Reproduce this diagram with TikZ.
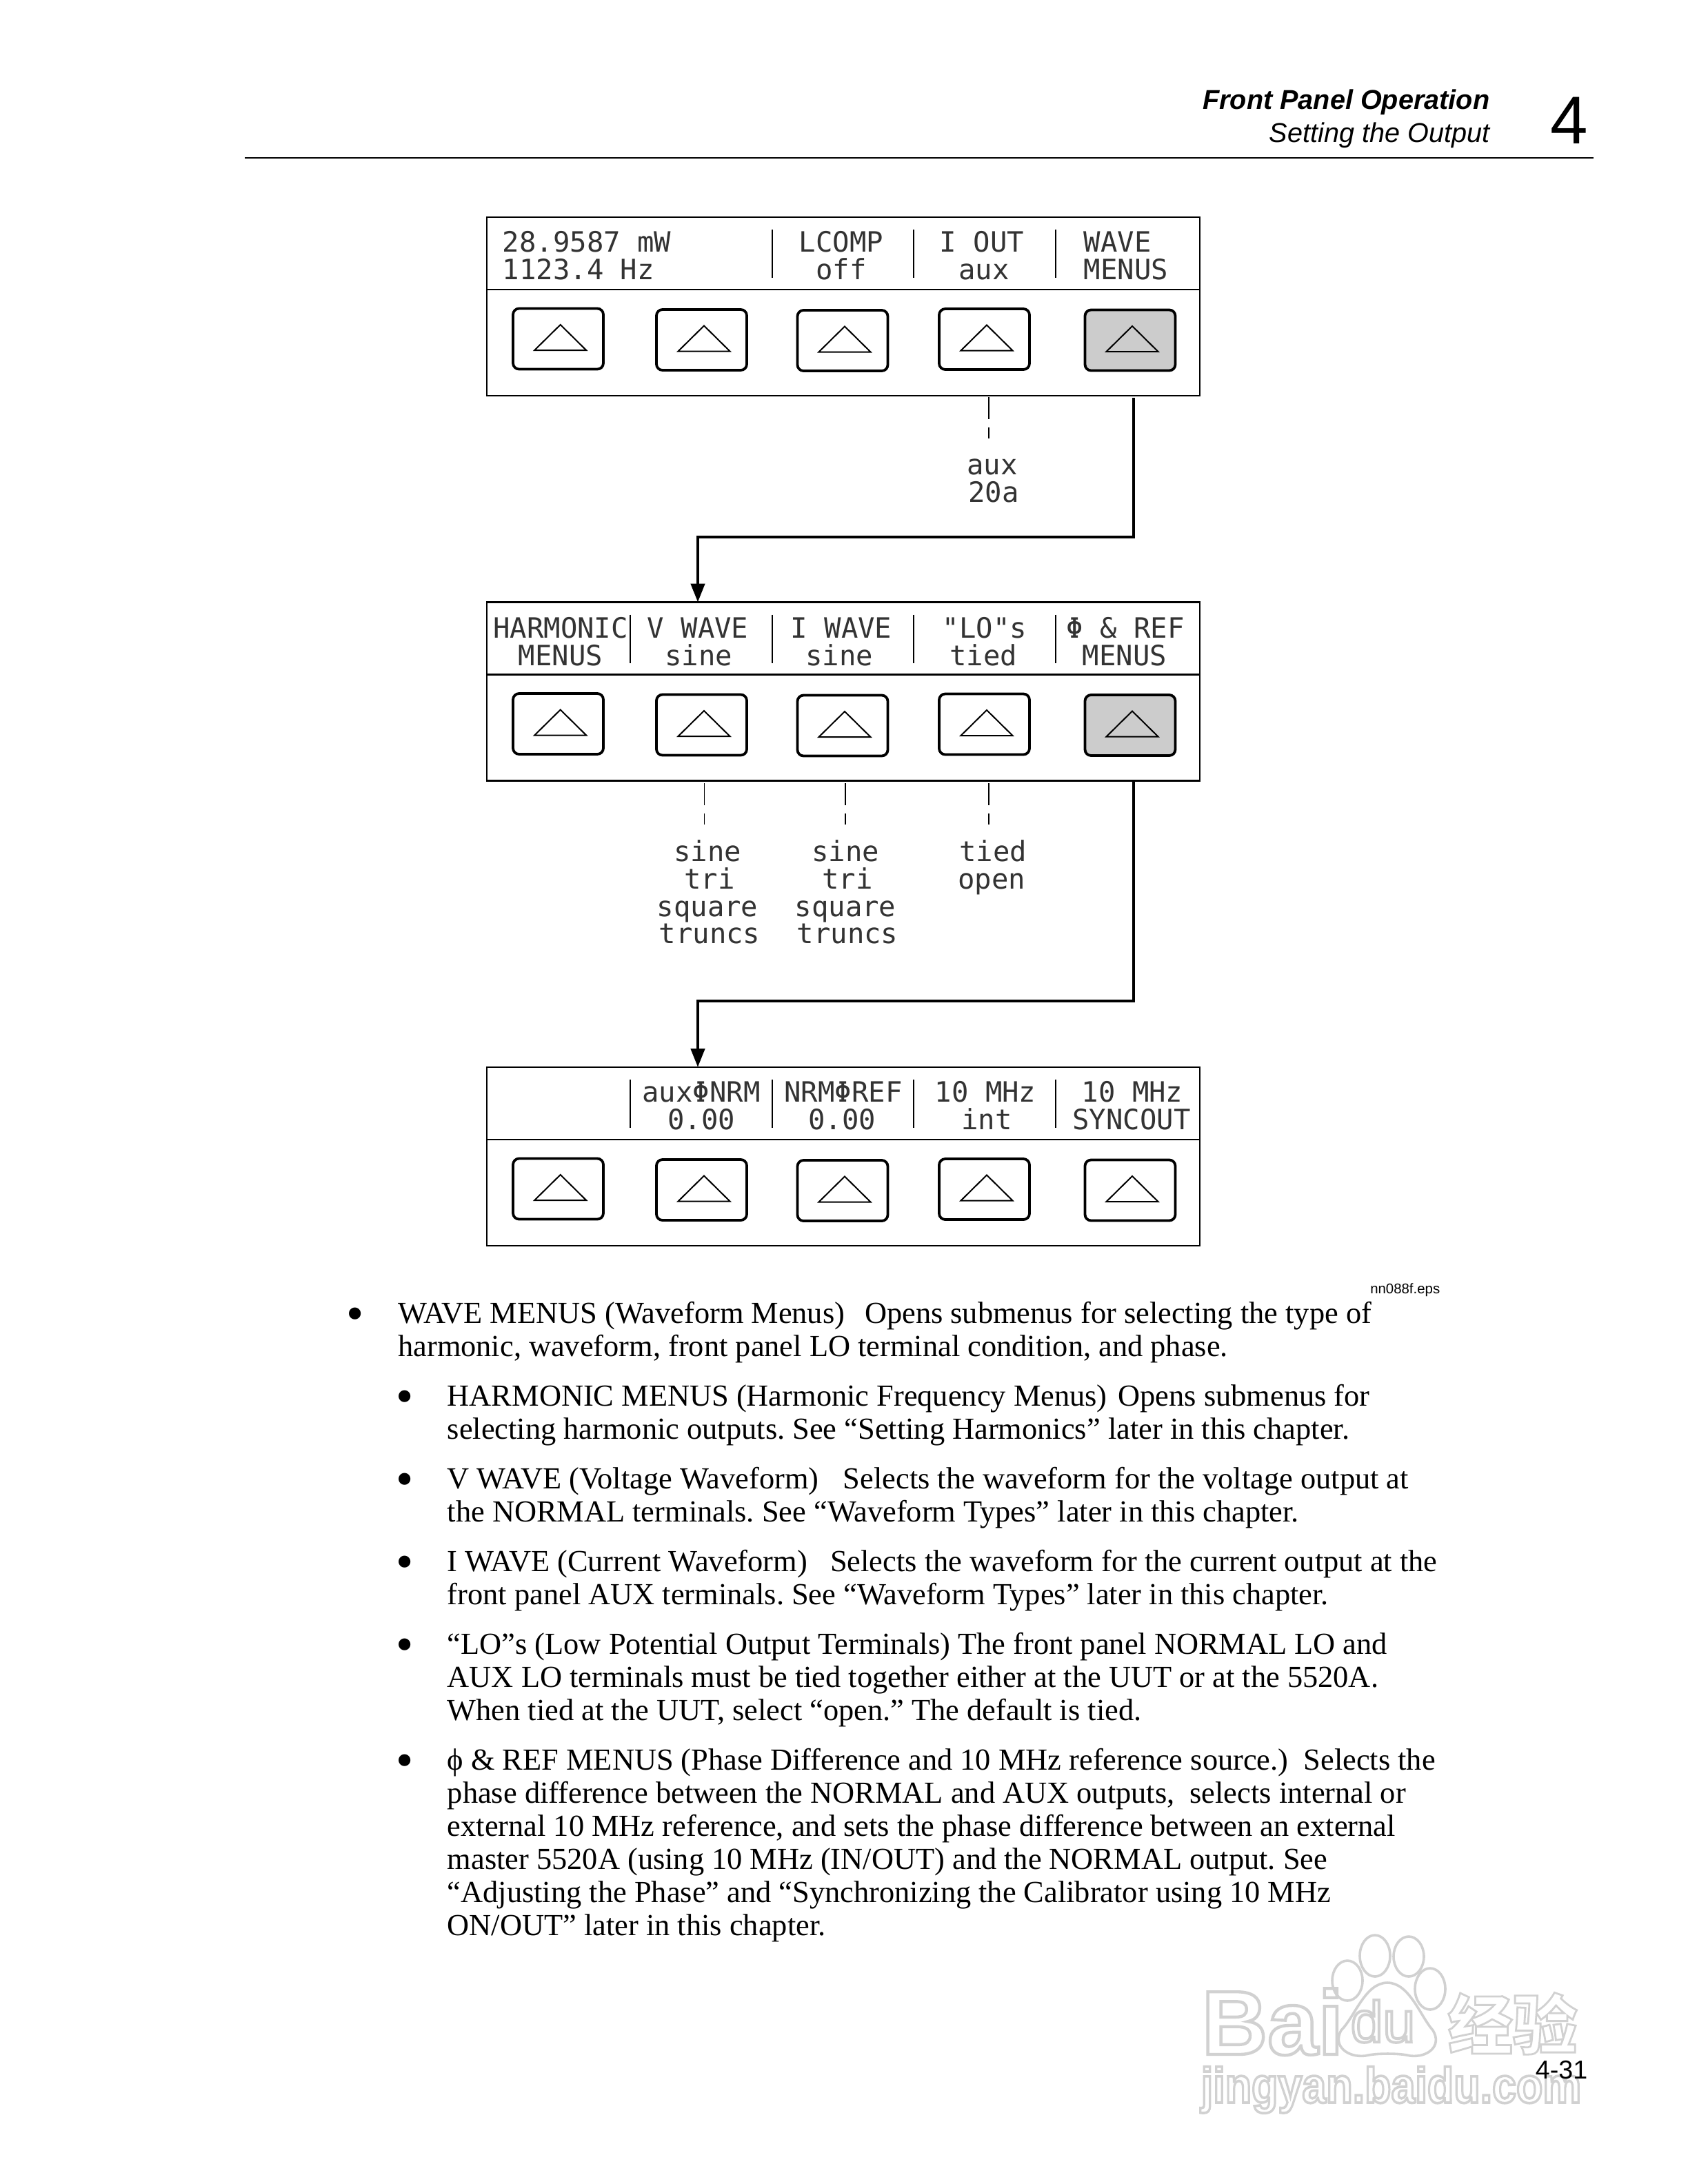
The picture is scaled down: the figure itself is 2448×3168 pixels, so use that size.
\documentclass[tikz,border=0pt]{standalone}
\usepackage{fontspec}
\usetikzlibrary{arrows.meta}
\setmainfont{Liberation Serif}
\newfontfamily\lcdf{DejaVu Sans Mono}
\newfontfamily\hsf{Liberation Sans}
\newfontfamily\cjkf{Noto Sans CJK SC}
\definecolor{wmgray}{gray}{0.82}
\newcommand{\wmout}[2]{\special{pdf:code q 1 Tr #1 w 0.82 G}#2\special{pdf:code Q}}
\frenchspacing
\tikzset{
  panelbox/.style={draw,line width=0.6bp,minimum width=258.5bp,minimum height=64.75bp,inner sep=0pt,outer sep=0pt,anchor=north west},
  btn/.style={draw,line width=0.95bp,rounded corners=2.2bp,minimum width=32.75bp,minimum height=22bp,inner sep=0pt,outer sep=0pt,anchor=north,fill=white},
  btnon/.style={btn,fill=black!20},
  tri/.style={draw,line width=0.5bp,line join=miter},
  sepline/.style={line width=0.7bp},
  flow/.style={line width=1.15bp,-{Triangle[length=6.75bp,width=5bp]}},
  drop/.style={line width=0.45bp,dash pattern=on 7.9bp off 3.1bp on 3.9bp off 100bp},
  lcd/.style={font=\lcdf\fontsize{10.15bp}{12bp}\selectfont,text=black!80,inner sep=0pt,anchor=base},
  lcdl/.style={lcd,anchor=base west},
  bodytext/.style={font=\fontsize{11.1bp}{12bp}\selectfont,inner sep=0pt,anchor=base west},
  bul/.style={font=\fontsize{18bp}{20bp}\selectfont,inner sep=0pt,anchor=base},
  wmline/.style={draw=wmgray,fill=white,line width=0.9bp},
  wmtext/.style={inner sep=0pt,anchor=base west}
}
% name, centre x, top y, apex x, style
\newcommand{\mybtn}[5]{%
  \node[#5] (#1) at (#2,#3) {};
  \draw[tri] (#4,#3+23.5) -- (#4-37.5,#3+60.5) -- (#4+37.5,#3+60.5) -- cycle;
}
\newcommand{\mypanel}[2]{%
  \node[panelbox] (#1) at (705.7,#2) {};
  \draw[line width=0.6bp] (705.7,#2+105) -- (1739.7,#2+105);
  \coordinate (#1s1) at (914,#2+18);
  \coordinate (#1s2) at (1120,#2+18);
  \coordinate (#1s3) at (1325,#2+18);
  \coordinate (#1s4) at (1531,#2+18);
  \draw[sepline] (#1s2) -- ++(0,70);
  \draw[sepline] (#1s3) -- ++(0,70);
  \draw[sepline] (#1s4) -- ++(0,70);
  \mybtn{#1b1}{809.5}{#2+132.5}{812.7}{btn}
  \mybtn{#1b2}{1017.5}{#2+134}{1021}{btn}
  \mybtn{#1b3}{1222}{#2+135}{1225}{btn}
  \mybtn{#1b4}{1427.5}{#2+133}{1431}{btn}
}
\begin{document}
\begin{tikzpicture}[x=0.25bp,y=-0.25bp]
\useasboundingbox[fill=white] (0,0) rectangle (2448,3168);

% ---- watermark
\draw[wmline] (1954,2873) ellipse[x radius=22,y radius=29];
\draw[wmline] (1994,2837) ellipse[x radius=22,y radius=30];
\draw[wmline] (2043,2838) ellipse[x radius=22,y radius=29];
\draw[wmline] (2074,2885) ellipse[x radius=22,y radius=30];
\draw[wmline] (2012,2876) .. controls (2044,2876) and (2060,2925) .. (2078,2945)
   .. controls (2092,2968) and (2070,2985) .. (2045,2982)
   .. controls (2030,2978) and (1995,2978) .. (1980,2982)
   .. controls (1955,2985) and (1932,2968) .. (1945,2945)
   .. controls (1965,2925) and (1980,2876) .. (2012,2876) -- cycle;
\node[wmtext,font=\hsf\bfseries\fontsize{33bp}{36bp}\selectfont] (wmbai) at (1742,2980) {\wmout{1.1}{Bai}};
\node[wmtext,font=\hsf\fontsize{21bp}{24bp}\selectfont] (wmdu) at (1958,2962) {\wmout{1.0}{du}};
\node[wmtext,font=\cjkf\bfseries\fontsize{23.5bp}{26bp}\selectfont] (wmcn) at (2099,2972) {\wmout{0.7}{经验}};
\node[wmtext,font=\hsf\bfseries\fontsize{15.7bp}{22bp}\selectfont] (wmurl) at (1741,3050) {\scalebox{1}[1.15]{\wmout{0.8}{jingyan.baidu.com}}};

% ---- header
\draw[line width=0.5bp] (355,229.3) -- (2311,229.3);
\node[inner sep=0pt,anchor=base east,font=\hsf\bfseries\itshape\fontsize{9.9bp}{12bp}\selectfont] (h1) at (2161,158) {Front Panel Operation};
\node[inner sep=0pt,anchor=base east,font=\hsf\itshape\fontsize{9.9bp}{12bp}\selectfont] (h2) at (2161,206) {Setting the Output};
\node[inner sep=0pt,anchor=base east,font=\hsf\fontsize{24.5bp}{28bp}\selectfont] (h3) at (2304,208) {4};

% ---- panels
\mypanel{pa}{315}
\mybtn{pab5}{1639}{449.5}{1642}{btnon}
\mypanel{pb}{873.5}
\mybtn{pbb5}{1639}{1008}{1642}{btnon}
\draw[sepline] (pbs1) -- ++(0,70);
\mypanel{pc}{1548}
\mybtn{pcb5}{1639}{1682.5}{1642}{btn}
\draw[sepline] (pcs1) -- ++(0,70);

% panel 1 text
\node[lcdl] (a1) at (728,365) {28.9587 mW};
\node[lcdl] (a2) at (728,405.5) {1123.4 Hz};
\node[lcd] (a3) at (1220,365) {LCOMP};
\node[lcd] (a4) at (1220,405.5) {off};
\node[lcd] (a5) at (1424,365) {I OUT};
\node[lcd] (a6) at (1427,405.5) {aux};
\node[lcdl] (a7) at (1571,365) {WAVE};
\node[lcdl] (a8) at (1571,405.5) {MENUS};

% panel 2 text
\node[lcd] (b1) at (813,925) {HARMONIC};
\node[lcd] (b2) at (813,965) {MENUS};
\node[lcd] (b3) at (1012,925) {V WAVE};
\node[lcd] (b4) at (1013,965) {sine};
\node[lcd] (b5) at (1220,925) {I WAVE};
\node[lcd] (b6) at (1217,965) {sine};
\node[lcd] (b7) at (1428,925) {"LO"s};
\node[lcd] (b8) at (1426,965) {tied};
\node[lcd] (b9) at (1632,925) {Φ \& REF};
\node[lcd] (b10) at (1631,965) {MENUS};

% panel 3 text
\node[lcd] (c1) at (1017,1598) {auxΦNRM};
\node[lcd] (c2) at (1017,1638) {0.00};
\node[lcd] (c3) at (1223,1598) {NRMΦREF};
\node[lcd] (c4) at (1221,1638) {0.00};
\node[lcd] (c5) at (1429,1598) {10 MHz};
\node[lcd] (c6) at (1431,1638) {int};
\node[lcd] (c7) at (1642,1598) {10 MHz};
\node[lcd] (c8) at (1641,1638) {SYNCOUT};

% option lists
\node[lcd] (d1) at (1439,688) {aux};
\node[lcd] (d2) at (1441,728) {20a};
\node[lcd] (e1) at (1026,1249) {sine};
\node[lcd] (e2) at (1029,1289) {tri};
\node[lcd] (e3) at (1026,1329) {square};
\node[lcd] (e4) at (1029,1368) {truncs};
\node[lcd] (f1) at (1226,1249) {sine};
\node[lcd] (f2) at (1229,1289) {tri};
\node[lcd] (f3) at (1226,1329) {square};
\node[lcd] (f4) at (1229,1368) {truncs};
\node[lcd] (g1) at (1440,1249) {tied};
\node[lcd] (g2) at (1438,1289) {open};

% dashed leaders
\coordinate (la) at (1434,576);   \coordinate (lb) at (1434,636);
\coordinate (lc) at (1021.5,1136);\coordinate (ld) at (1021.5,1196);
\coordinate (le) at (1226,1136);  \coordinate (lf) at (1226,1196);
\coordinate (lg) at (1434,1136);  \coordinate (lh) at (1434,1196);
\draw[drop] (la) -- (lb);
\draw[drop] (lc) -- (ld);
\draw[drop] (le) -- (lf);
\draw[drop] (lg) -- (lh);

% connectors
\coordinate (ca) at (1644,577);
\coordinate (cb) at (1644,779);
\coordinate (cc) at (1012,779);
\coordinate (cd) at (1012,873.5);
\draw[flow] (ca) -- (cb) -- (cc) -- (cd);
\coordinate (ce) at (1644,1134);
\coordinate (cf) at (1644,1452);
\coordinate (cg) at (1012,1452);
\coordinate (ch) at (1012,1548);
\draw[flow] (ce) -- (cf) -- (cg) -- (ch);

% file tag
\node[inner sep=0pt,anchor=base east,font=\hsf\fontsize{5.1bp}{6bp}\selectfont] (tag) at (2089,1876) {nn088f.eps};

% body text
\node[bul] (m0) at (515,1929) {•};
\node[bodytext] (m1) at (576.5,1919) {WAVE MENUS (Waveform Menus)\hspace{0.65em}Opens submenus for selecting the type of};
\node[bodytext] (m2) at (576.5,1967) {harmonic, waveform, front panel LO terminal condition, and phase.};
\node[bul] (s10) at (587,2049) {•};
\node[bodytext] (s11) at (648,2039) {HARMONIC MENUS (Harmonic Frequency Menus)\hspace{0.36em}Opens submenus for};
\node[bodytext] (s12) at (648,2087) {selecting harmonic outputs. See “Setting Harmonics” later in this chapter.};
\node[bul] (s20) at (587,2169) {•};
\node[bodytext] (s21) at (648,2159) {V WAVE (Voltage Waveform)\hspace{0.8em}Selects the waveform for the voltage output at};
\node[bodytext] (s22) at (648,2207) {the NORMAL terminals. See “Waveform Types” later in this chapter.};
\node[bul] (s30) at (587,2289) {•};
\node[bodytext] (s31) at (648,2279) {I WAVE (Current Waveform)\hspace{0.75em}Selects the waveform for the current output at the};
\node[bodytext] (s32) at (648,2327) {front panel AUX terminals. See “Waveform Types” later in this chapter.};
\node[bul] (s40) at (587,2409) {•};
\node[bodytext] (s41) at (648,2399) {“LO”s (Low Potential Output Terminals) The front panel NORMAL LO and};
\node[bodytext] (s42) at (648,2447) {AUX LO terminals must be tied together either at the UUT or at the 5520A.};
\node[bodytext] (s43) at (648,2495) {When tied at the UUT, select “open.” The default is tied.};
\node[bul] (s50) at (587,2577) {•};
\node[bodytext] (s51) at (648,2567) {ϕ \& REF MENUS (Phase Difference and 10 MHz reference source.)\hspace{0.25em} Selects the};
\node[bodytext] (s52) at (648,2615) {phase difference between the NORMAL and AUX outputs,\hspace{0.25em} selects internal or};
\node[bodytext] (s53) at (648,2663) {external 10 MHz reference, and sets the phase difference between an external};
\node[bodytext] (s54) at (648,2711) {master 5520A (using 10 MHz (IN/OUT) and the NORMAL output. See};
\node[bodytext] (s55) at (648,2759) {“Adjusting the Phase” and “Synchronizing the Calibrator using 10 MHz};
\node[bodytext] (s56) at (648,2807) {ON/OUT” later in this chapter.};

% page number
\node[inner sep=0pt,anchor=base east,font=\hsf\fontsize{9.4bp}{11bp}\selectfont] (pg) at (2303,3015) {4-31};
\end{tikzpicture}
\end{document}
